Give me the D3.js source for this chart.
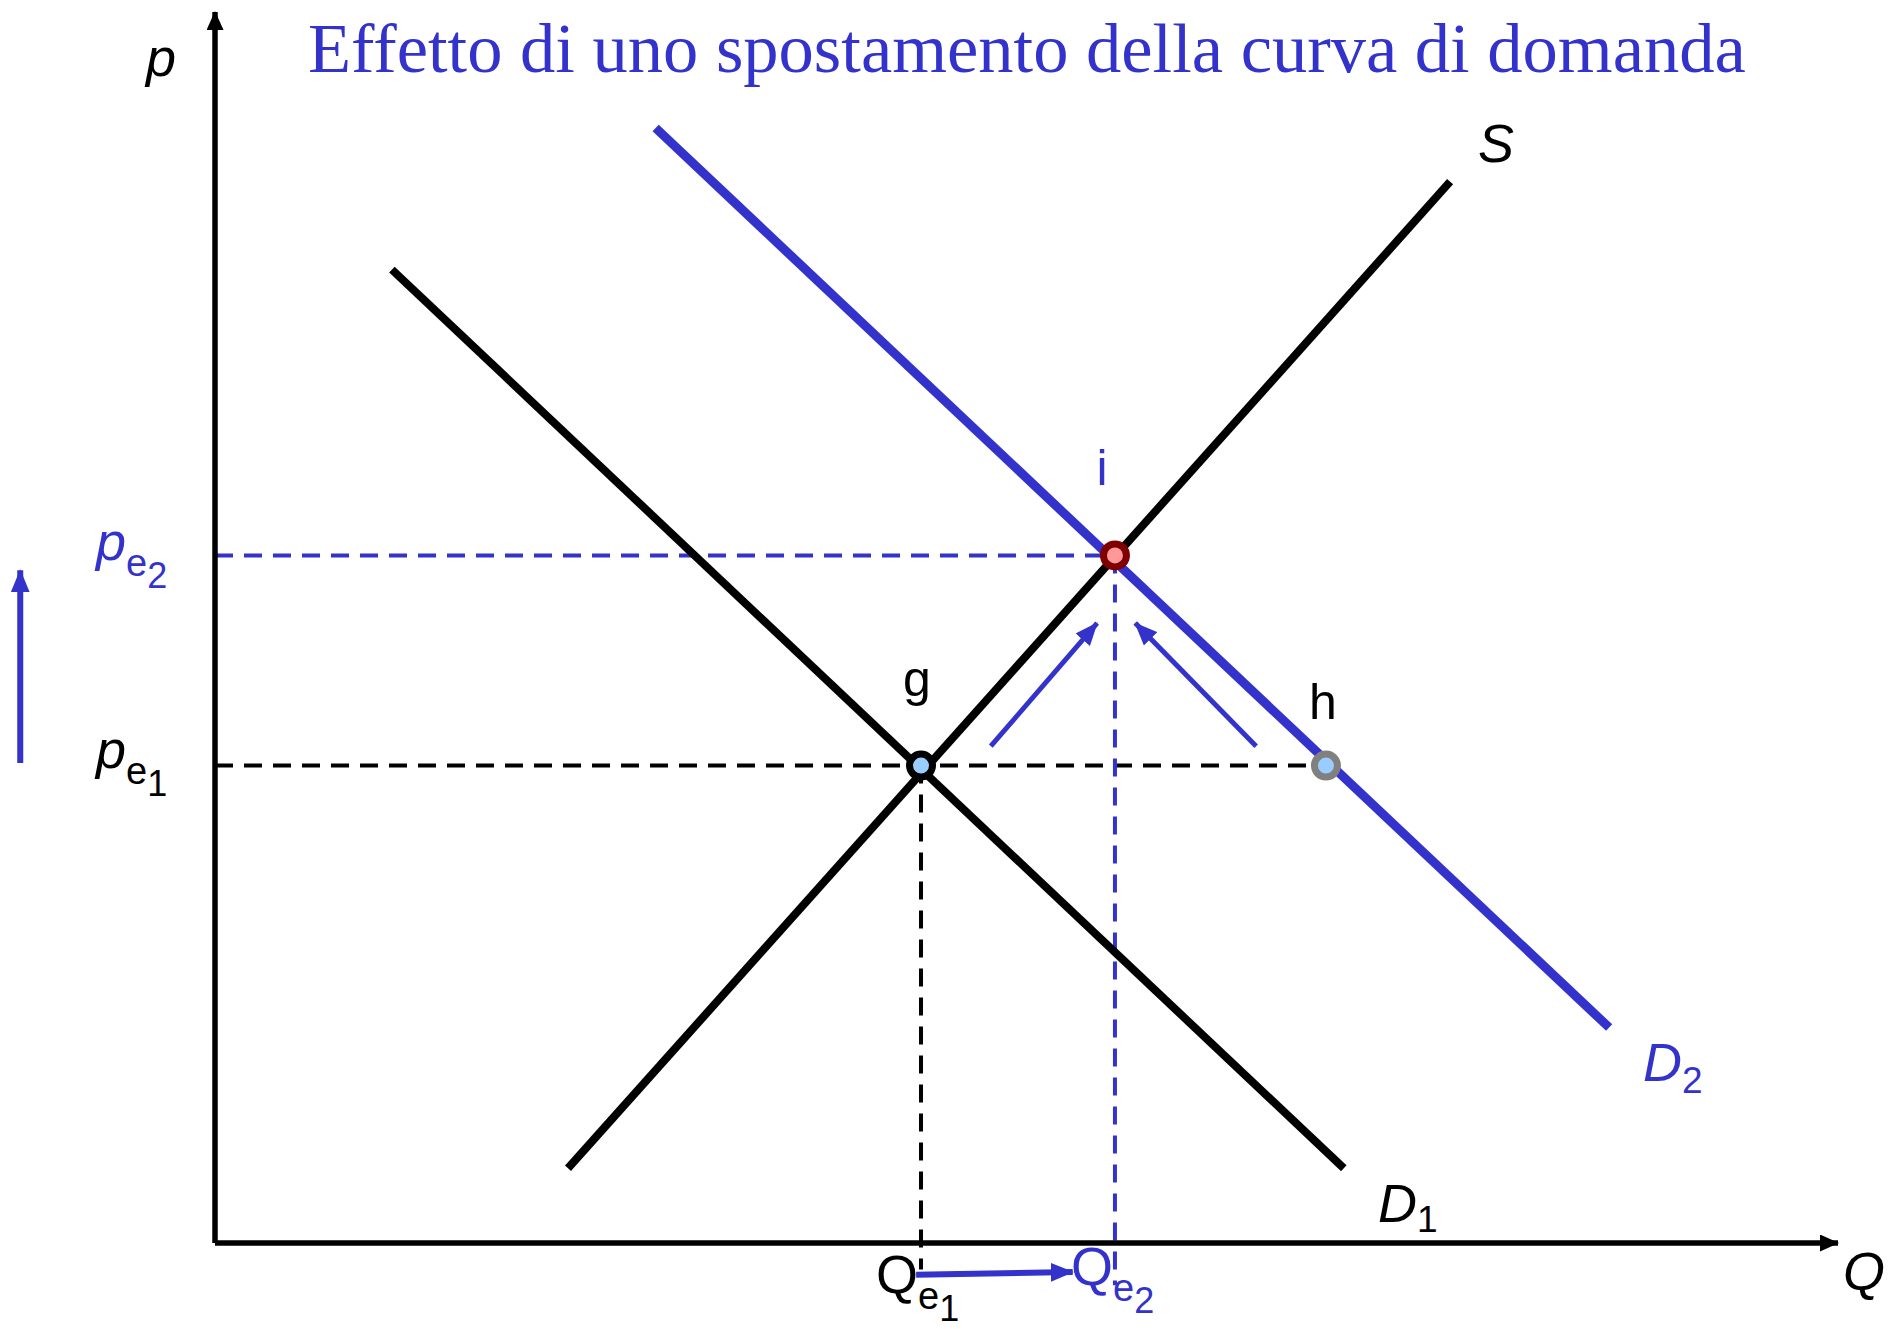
<!doctype html>
<html lang="it">
<head>
<meta charset="UTF-8">
<title>Effetto di uno spostamento della curva di domanda</title>
<script src="https://d3js.org/d3.v7.min.js"></script>
<style>
  body { margin: 0; background: #fff; }
  svg text { font-family: "Liberation Sans", Arial, sans-serif; }
</style>
</head>
<body>
<div id="chart"></div>
<script>

  // Curves as (Q, p) end points
  const curveS = [[4.35, 0.85], [15.22, 12.07]];
  const curveD1 = [[2.18, 11.07], [13.91, 0.85]];
  const curveD2 = [[5.43, 12.68], [17.18, 2.45]];

  // Equilibrium prices and quantities (before, after)
  const pe = [5.43, 7.82];
  const qe = [8.70, 11.09];

  // Marked points g, i, h
  const pointNames = ['g', 'i', 'h'];
  const pointQ = [8.70, 11.09, 13.69];
  const pointP = [5.43, 7.82, 5.43];

  // Movement arrows
  const moveArrows = [
    [[9.56, 5.65], [10.87, 7.05]],
    [[12.83, 5.65], [11.34, 7.05]]
  ];
  const qShiftArrow = [[8.64, -0.36], [10.57, -0.33]];
  const pShiftArrow = [[-2.40, 5.46], [-2.40, 7.65]];

  const blue = '#3333cc';
  const width = 1890, height = 1329;

  const x = d3.scaleLinear().domain([0, 20]).range([215, 1838]);
  const y = d3.scaleLinear().domain([0, 14]).range([1243, 12]);

  const line = d3.line()
      .x(d => x(d[0]))
      .y(d => y(d[1]));

  const svg = d3.select('#chart')
      .append('svg')
      .attr('width', width)
      .attr('height', height);

  // arrow heads
  const defs = svg.append('defs');
  function marker(id, color, len, wid) {
    defs.append('marker')
        .attr('id', id)
        .attr('markerUnits', 'userSpaceOnUse')
        .attr('viewBox', `0 0 ${len} ${wid}`)
        .attr('refX', len - 1)
        .attr('refY', wid / 2)
        .attr('markerWidth', len)
        .attr('markerHeight', wid)
        .attr('orient', 'auto')
        .append('path')
        .attr('d', `M0,0L${len},${wid / 2}L0,${wid}Z`)
        .attr('fill', color);
  }
  marker('axisHead', '#000', 19, 17);
  marker('blueHead', blue, 23, 19);

  // Title
  svg.append('text')
      .attr('x', 308)
      .attr('y', 72)
      .style('font-family', '"Liberation Serif", "Times New Roman", serif')
      .style('font-size', '70.5px')
      .attr('fill', blue)
      .text('Effetto di uno spostamento della curva di domanda');

  // Dashed guides
  const guides = [
    { pts: [[0, pe[0]], [pointQ[2], pe[0]]], color: '#000' },
    { pts: [[0, pe[1]], [qe[1], pe[1]]], color: blue },
    { pts: [[qe[0], pe[0]], [qe[0], -0.3]], color: '#000' },
    { pts: [[qe[1], pe[1]], [qe[1], -0.48]], color: blue }
  ];
  svg.selectAll('.guide')
      .data(guides)
      .enter()
      .append('path')
      .attr('class', 'guide')
      .attr('d', d => line(d.pts))
      .attr('fill', 'none')
      .attr('stroke', d => d.color)
      .attr('stroke-width', 4)
      .attr('stroke-dasharray', '18,11');

  // Axes
  svg.append('path')
      .attr('d', line([[0, 0], [0, 14]]))
      .attr('stroke', '#000')
      .attr('stroke-width', 5.5)
      .attr('marker-end', 'url(#axisHead)');
  svg.append('path')
      .attr('d', line([[0, 0], [20, 0]]))
      .attr('stroke', '#000')
      .attr('stroke-width', 5.5)
      .attr('marker-end', 'url(#axisHead)');

  // Curves
  svg.append('path').datum(curveD1)
      .attr('d', line).attr('stroke', '#000').attr('stroke-width', 8);
  svg.append('path').datum(curveS)
      .attr('d', line).attr('stroke', '#000').attr('stroke-width', 8);
  svg.append('path').datum(curveD2)
      .attr('d', line).attr('stroke', blue).attr('stroke-width', 9);

  // Movement arrows
  svg.selectAll('.move')
      .data(moveArrows.concat([qShiftArrow, pShiftArrow]))
      .enter()
      .append('path')
      .attr('class', 'move')
      .attr('d', line)
      .attr('stroke', blue)
      .attr('stroke-width', (d, i) => i >= 2 ? 6 : 5)
      .attr('marker-end', 'url(#blueHead)');

  // Points
  const pointFill = ['#99ccff', '#ff9999', '#99ccff'];
  const pointStroke = ['#000', '#800000', '#808080'];
  svg.selectAll('.pt')
      .data(pointNames)
      .enter()
      .append('circle')
      .attr('class', 'pt')
      .attr('cx', (d, i) => x(pointQ[i]))
      .attr('cy', (d, i) => y(pointP[i]))
      .attr('r', 11.5)
      .attr('fill', (d, i) => pointFill[i])
      .attr('stroke', (d, i) => pointStroke[i])
      .attr('stroke-width', 7);

  // Point labels
  const labelOffset = [[-4, -70], [-13, -70], [-3, -47]];
  svg.selectAll('.ptlabel')
      .data(pointNames)
      .enter()
      .append('text')
      .attr('class', 'ptlabel')
      .attr('x', (d, i) => x(pointQ[i]) + labelOffset[i][0])
      .attr('y', (d, i) => y(pointP[i]) + labelOffset[i][1])
      .attr('text-anchor', 'middle')
      .style('font-size', '50px')
      .attr('fill', (d, i) => i === 1 ? blue : '#000')
      .text(d => d);

  // Labels with a nested "e" subscript
  function label(px, py, main, sub, color, italic) {
    const t = svg.append('text')
        .attr('x', px)
        .attr('y', py)
        .attr('fill', color)
        .style('font-size', '54px');
    t.append('tspan')
        .style('font-style', italic ? 'italic' : 'normal')
        .text(main);
    if (sub) {
      t.append('tspan')
          .attr('dy', 16)
          .style('font-size', '38px')
          .text('e');
      t.append('tspan')
          .attr('dy', 12)
          .style('font-size', '36px')
          .text(sub);
    }
  }

  label(146, 76, 'p', null, '#000', true);
  label(1843, 1290, 'Q', null, '#000', true);
  label(1478, 162, 'S', null, '#000', true);
  label(1643, 1081, 'D', null, blue, true);
  label(1378, 1222, 'D', null, '#000', true);
  label(96, 560, 'p', '2', blue, true);
  label(96, 768, 'p', '1', '#000', true);
  label(876, 1293, 'Q', '1', '#000', false);
  label(1071, 1285, 'Q', '2', blue, false);

  // D subscripts
  svg.append('text').attr('x', 1682).attr('y', 1093).attr('fill', blue)
      .style('font-size', '37px').text('2');
  svg.append('text').attr('x', 1417).attr('y', 1232).attr('fill', '#000')
      .style('font-size', '37px').text('1');

</script>
</body>
</html>
